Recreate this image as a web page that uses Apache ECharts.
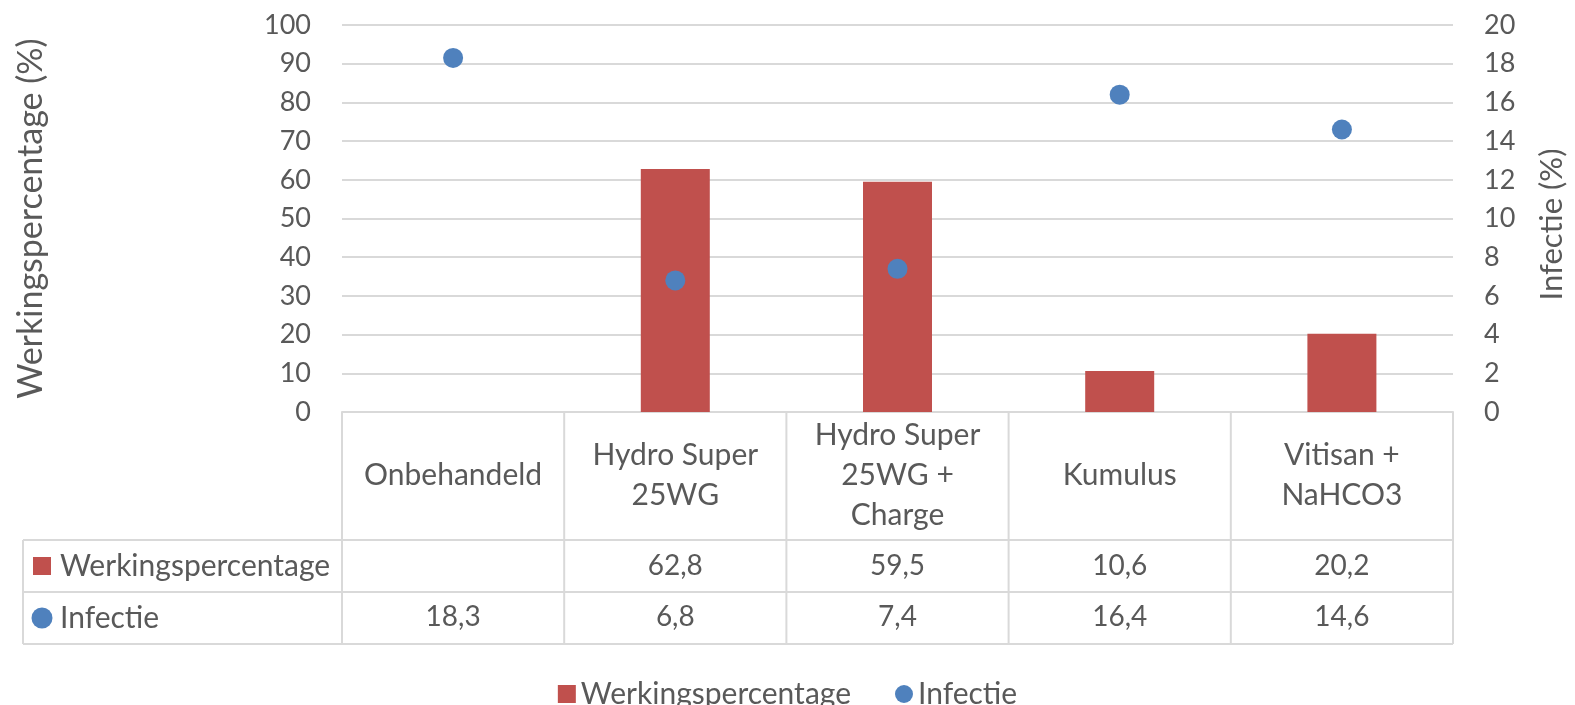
<!DOCTYPE html>
<html>
<head>
<meta charset="utf-8">
<script src="https://cdn.jsdelivr.net/npm/echarts@6/dist/echarts.min.js"></script>
<style>
  html, body { margin: 0; padding: 0; background: #ffffff; }
  #chart { width: 1575px; height: 705px; }
</style>
</head>
<body>
<div id="chart"></div>
<script>
// data
const categories = ["Onbehandeld", "Hydro Super\n25WG", "Hydro Super\n25WG +\nCharge", "Kumulus", "Vitisan +\nNaHCO3"];
const werking = [null, 62.8, 59.5, 10.6, 20.2];
const infectie = [18.3, 6.8, 7.4, 16.4, 14.6];
const leftTicks = { min: 0, max: 100, interval: 10 };
const rightTicks = { min: 0, max: 20, interval: 2 };

const FONT = "Lato";
const TXT = "#595959";
const LINE = "#D9D9D9";
const RED = "#C0504D";
const BLUE = "#4F81BD";
const FS = 28; // numbers
const FT = 30; // words

const fmt = (v) => (v == null ? "" : v.toFixed(1).replace(".", ","));

const GRID = { left: 342, right: 117, top: 25, bottom: 293 };
const tableRows = [540, 592, 644]; // horizontal lines of the data table
const tableLeft = 23;

let myChart = echarts.init(document.getElementById("chart"));

const valueAxisLabel = (margin) => ({
  interval: 0,
  margin: margin,
  verticalAlign: "middle",
  color: TXT,
  fontFamily: FONT,
  fontSize: FS,
});

const option = {
  animation: false,
  textStyle: { fontFamily: FONT },
  grid: GRID,
  legend: {
    bottom: -9,
    left: "center",
    itemWidth: 18,
    itemHeight: 18,
    itemGap: 44,
    textStyle: { color: TXT, fontFamily: FONT, fontSize: FT },
    data: [
      { name: "Werkingspercentage", icon: "rect" },
      { name: "Infectie", icon: "circle" },
    ],
  },
  xAxis: [
    {
      type: "category",
      data: categories,
      boundaryGap: true,
      axisLine: { lineStyle: { color: LINE, width: 2 } },
      axisTick: { show: false },
      axisLabel: {
        interval: 0,
        margin: 63,
        verticalAlign: "middle",
        lineHeight: 40,
        color: TXT,
        fontFamily: FONT,
        fontSize: FT,
      },
    },
    {
      type: "category",
      data: werking.map(fmt),
      position: "bottom",
      axisLine: { show: false },
      axisTick: { show: false },
      axisLabel: valueAxisLabel(154),
    },
    {
      type: "category",
      data: infectie.map(fmt),
      position: "bottom",
      axisLine: { show: false },
      axisTick: { show: false },
      axisLabel: valueAxisLabel(205),
    },
  ],
  yAxis: [
    {
      type: "value",
      min: leftTicks.min,
      max: leftTicks.max,
      interval: leftTicks.interval,
      name: "Werkingspercentage (%)",
      nameLocation: "middle",
      nameGap: 294,
      nameTextStyle: { color: TXT, fontFamily: FONT, fontSize: 34 },
      axisLine: { show: false },
      axisTick: { show: false },
      axisLabel: { margin: 31, color: TXT, fontFamily: FONT, fontSize: FS - 1 },
      splitLine: { lineStyle: { color: LINE, width: 2 } },
    },
    {
      type: "value",
      min: rightTicks.min,
      max: rightTicks.max,
      interval: rightTicks.interval,
      name: "Infectie (%)",
      nameLocation: "middle",
      nameGap: 83,
      nameTextStyle: { color: TXT, fontFamily: FONT, fontSize: 31, padding: [0, 12, 0, 0] },
      axisLine: { show: false },
      axisTick: { show: false },
      axisLabel: { margin: 31, color: TXT, fontFamily: FONT, fontSize: FS - 1 },
      splitLine: { show: false },
    },
  ],
  series: [
    {
      name: "Werkingspercentage",
      type: "bar",
      xAxisIndex: 0,
      yAxisIndex: 0,
      barWidth: 69,
      itemStyle: { color: RED },
      data: werking,
    },
    {
      name: "Infectie",
      type: "scatter",
      xAxisIndex: 0,
      yAxisIndex: 1,
      symbol: "circle",
      symbolSize: 20,
      itemStyle: { color: BLUE, opacity: 1 },
      data: infectie,
    },
  ],
};

myChart.setOption(option);

// data table lines and row headers, placed from the category axis
const drawTable = () => {
  const c0 = myChart.convertToPixel({ xAxisIndex: 0 }, 0);
  const c1 = myChart.convertToPixel({ xAxisIndex: 0 }, 1);
  const band = c1 - c0;
  const axisY = myChart.convertToPixel({ yAxisIndex: 0 }, 0);
  const right = c0 - band / 2 + band * categories.length;
  const lineStyle = { stroke: LINE, lineWidth: 2 };
  const els = [];
  for (let i = 0; i <= categories.length; i++) {
    const x = c0 - band / 2 + band * i;
    els.push({ type: "line", shape: { x1: x, y1: axisY, x2: x, y2: tableRows[2] }, style: lineStyle });
  }
  els.push({ type: "line", shape: { x1: tableLeft, y1: tableRows[0], x2: tableLeft, y2: tableRows[2] }, style: lineStyle });
  tableRows.forEach((y) => {
    els.push({ type: "line", shape: { x1: tableLeft, y1: y, x2: right, y2: y }, style: lineStyle });
  });
  const mid1 = (tableRows[0] + tableRows[1]) / 2;
  const mid2 = (tableRows[1] + tableRows[2]) / 2;
  els.push({ type: "rect", shape: { x: 33, y: mid1 - 9, width: 18, height: 18 }, style: { fill: RED } });
  els.push({ type: "circle", shape: { cx: 42, cy: mid2, r: 10.5 }, style: { fill: BLUE } });
  els.push({
    type: "text", x: 60, y: mid1,
    style: { text: "Werkingspercentage", fill: TXT, font: FT + "px " + FONT, verticalAlign: "middle" },
  });
  els.push({
    type: "text", x: 60, y: mid2,
    style: { text: "Infectie", fill: TXT, font: FT + "px " + FONT, verticalAlign: "middle" },
  });
  myChart.setOption({ graphic: els });
};

drawTable();
</script>
</body>
</html>
